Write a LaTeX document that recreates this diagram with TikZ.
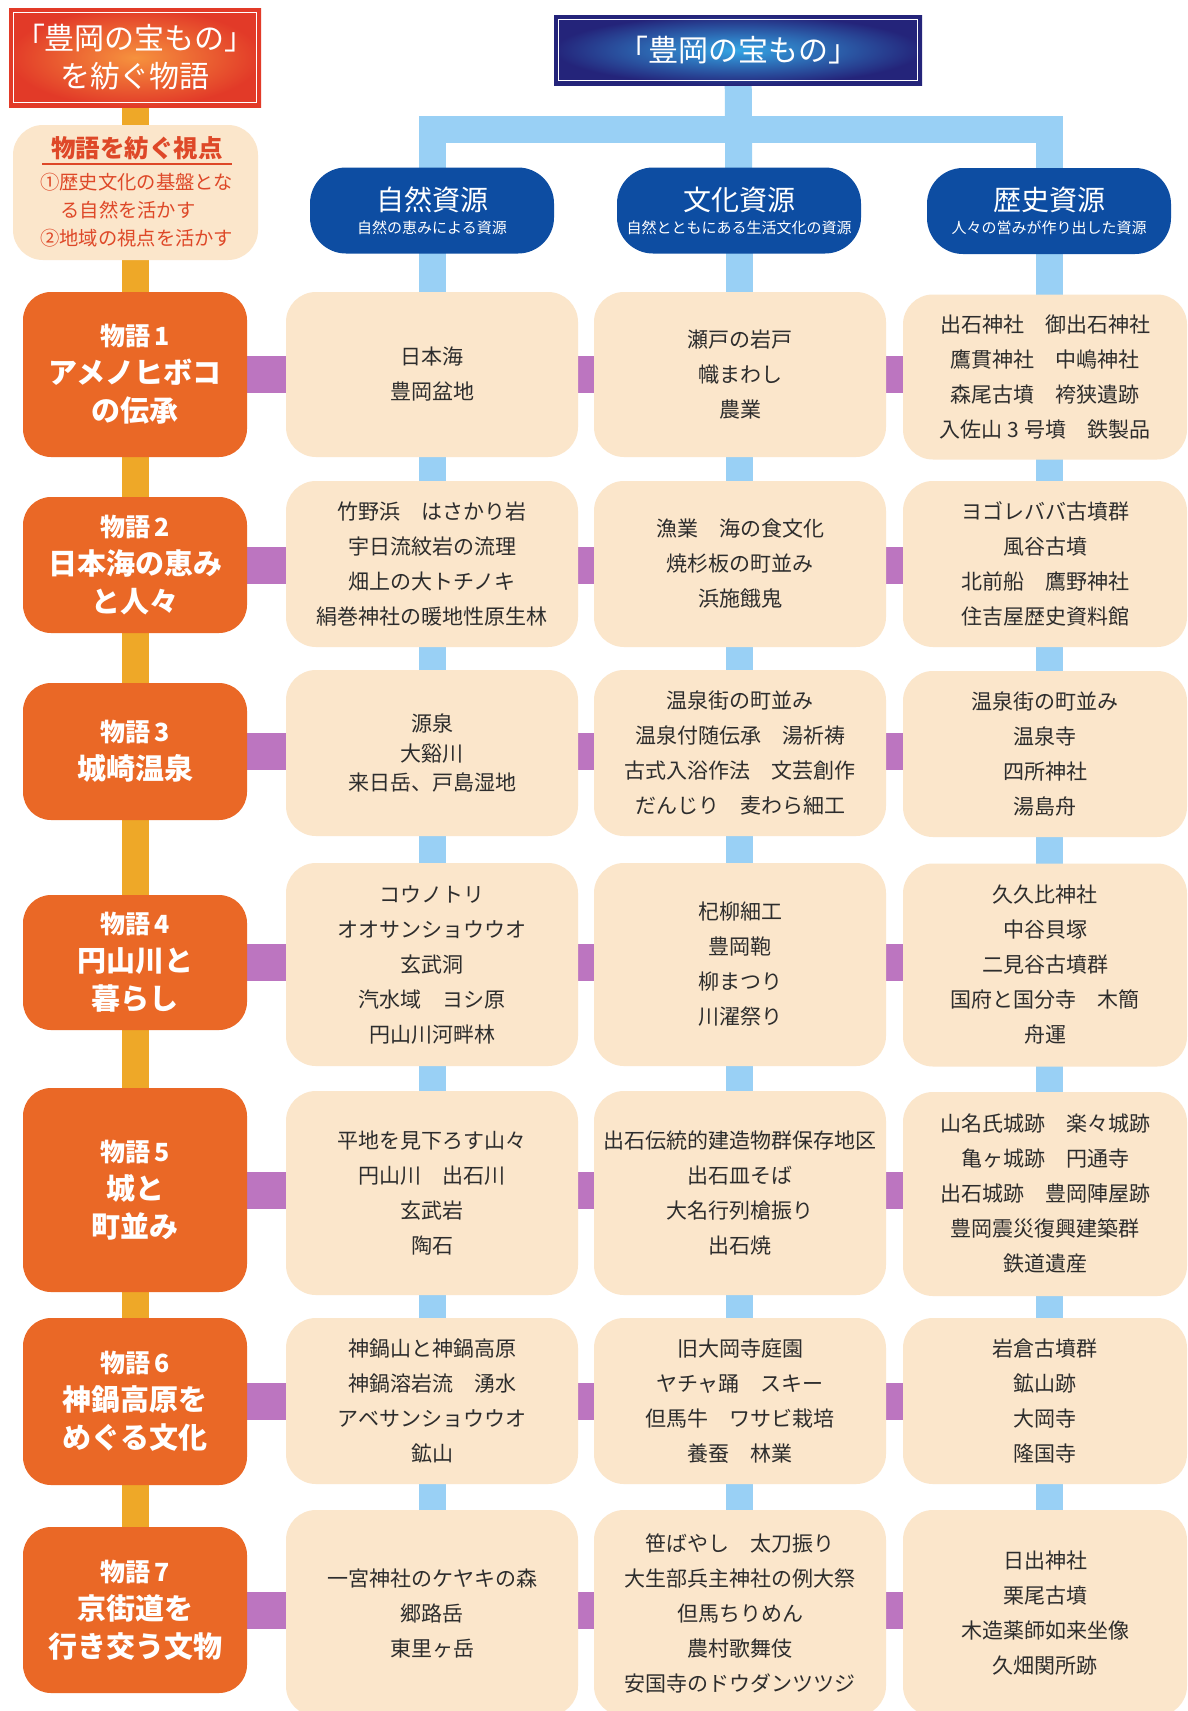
\documentclass[tikz,border=0pt]{standalone}
\usepackage{fontspec}
\setmainfont{Noto Sans CJK JP}
\usetikzlibrary{calc}
\pgfdeclarelayer{bg}
\pgfsetlayers{bg,main}
\definecolor{storyor}{RGB}{234,104,38}
\definecolor{baror}{RGB}{238,168,40}
\definecolor{beige}{RGB}{251,230,203}
\definecolor{purp}{RGB}{188,117,192}
\definecolor{lblue}{RGB}{153,208,245}
\definecolor{catblue}{RGB}{13,77,162}
\definecolor{redin}{RGB}{246,146,62}
\definecolor{redout}{RGB}{226,58,40}
\definecolor{bluein}{RGB}{52,165,228}
\definecolor{blueout}{RGB}{36,36,122}
\definecolor{vpred}{RGB}{222,72,40}
\definecolor{txt}{RGB}{45,45,45}
\tikzset{
  story/.style={fill=storyor, rounded corners=28pt, minimum width=224pt, text=white, align=center,
    font=\bfseries\fontsize{29}{38}\selectfont, inner sep=0pt},
  res/.style={fill=beige, rounded corners=30pt, minimum width=292pt, text=txt, align=center,
    font=\fontsize{21}{35}\selectfont, inner sep=0pt},
  resr/.style={res, minimum width=284pt},
  cat/.style={fill=catblue, rounded corners=36pt, minimum width=244pt, minimum height=86pt, text=white,
    align=center, font=\fontsize{15}{23}\selectfont, inner sep=0pt},
  redtitle/.style={shading=radial, inner color=redin, outer color=redout, minimum width=252pt,
    minimum height=99pt, text=white, align=center, font=\fontsize{30}{38}\selectfont, inner sep=0pt},
  bluetitle/.style={shading=radial, inner color=bluein, outer color=blueout, minimum width=368pt,
    minimum height=70pt, text=white, align=center, font=\fontsize{30}{34}\selectfont, inner sep=0pt},
  frame/.style={draw=white, line width=1.2pt},
  orbar/.style={draw=baror, line width=27pt},
  bluebar/.style={draw=lblue, line width=27pt, line join=miter},
  purbar/.style={draw=purp, line width=37pt},
  vpbox/.style={fill=beige, rounded corners=30pt, minimum width=245pt, minimum height=135pt, inner sep=0pt},
}
\newcommand{\cattitle}[1]{{\fontsize{28}{30}\selectfont #1}}
\newcommand{\stnum}[1]{{\fontsize{25}{30}\selectfont 物語\,#1}}
\begin{document}
\begin{tikzpicture}[x=1pt,y=-1pt]
\useasboundingbox (0,0) rectangle (1187,1711);
\begin{pgfonlayer}{bg}
\fill[white] (0,0) rectangle (1187,1711);
\end{pgfonlayer}

% titles
\node[redtitle] (rt) at (135,57.5) {「豊岡の宝もの」\\を紡ぐ物語};
\draw[frame] ($(rt.north west)+(5,5)$) rectangle ($(rt.south east)+(-5,-5)$);
\node[bluetitle] (bt) at (738,50) {「豊岡の宝もの」};
\draw[frame] ($(bt.north west)+(5,5)$) rectangle ($(bt.south east)+(-5,-5)$);

% categories
\node[cat] (nat) at (432,210.5) {\cattitle{自然資源}\\自然の恵みによる資源};
\node[cat] (cul) at (739,210.5) {\cattitle{文化資源}\\自然とともにある生活文化の資源};
\node[cat] (his) at (1049,211) {\cattitle{歴史資源}\\人々の営みが作り出した資源};

% viewpoint box
\node[vpbox] (vp) at (135.5,192.5) {};
\node[text=vpred, font=\bfseries\fontsize{24.5}{28}\selectfont, inner sep=0pt] (vph) at (137,148) {物語を紡ぐ視点};
\coordinate (ul1) at (42,164);
\coordinate (ul2) at (232,164);
\draw[vpred, line width=1.2pt] (ul1) -- (ul2);
\node[text=vpred, font=\fontsize{19.3}{28}\selectfont, align=left, anchor=north west, inner sep=0pt] (vpt) at (40,173)
  {①歴史文化の基盤とな\\\hspace*{1.05em}る自然を活かす\\②地域の視点を活かす};

% stories
\node[story, minimum height=165pt] (s1) at (135,374.5) {\stnum{1}\\アメノヒボコ\\の伝承};
\node[story, minimum height=136pt] (s2) at (135,565) {\stnum{2}\\日本海の恵み\\と人々};
\node[story, minimum height=137pt] (s3) at (135,751.5) {\stnum{3}\\城崎温泉};
\node[story, minimum height=135pt] (s4) at (135,962.5) {\stnum{4}\\円山川と\\暮らし};
\node[story, minimum height=204pt] (s5) at (135,1190) {\stnum{5}\\城と\\町並み};
\node[story, minimum height=167pt] (s6) at (135,1401.5) {\stnum{6}\\神鍋高原を\\めぐる文化};
\node[story, minimum height=166pt] (s7) at (135,1610) {\stnum{7}\\京街道を\\行き交う文物};

% row 1
\node[res, minimum height=165pt] (r1a) at (432,374.5) {日本海\\豊岡盆地};
\node[res, minimum height=165pt] (r1b) at (740,374.5) {瀬戸の岩戸\\幟まわし\\農業};
\node[resr, minimum height=165pt] (r1c) at (1045,377) {出石神社　御出石神社\\鷹貫神社　中嶋神社\\森尾古墳　袴狭遺跡\\入佐山 3 号墳　鉄製品};
% row 2
\node[res, minimum height=166pt] (r2a) at (432,564) {竹野浜　はさかり岩\\宇日流紋岩の流理\\畑上の大トチノキ\\絹巻神社の暖地性原生林};
\node[res, minimum height=166pt] (r2b) at (740,564) {漁業　海の食文化\\焼杉板の町並み\\浜施餓鬼};
\node[resr, minimum height=166pt] (r2c) at (1045,564) {ヨゴレババ古墳群\\風谷古墳\\北前船　鷹野神社\\住吉屋歴史資料館};
% row 3
\node[res, minimum height=166pt, font=\fontsize{21}{29.5}\selectfont] (r3a) at (432,753) {源泉\\大谿川\\来日岳、戸島湿地};
\node[res, minimum height=166pt] (r3b) at (740,753) {温泉街の町並み\\温泉付随伝承　湯祈祷\\古式入浴作法　文芸創作\\だんじり　麦わら細工};
\node[resr, minimum height=166pt] (r3c) at (1045,754) {温泉街の町並み\\温泉寺\\四所神社\\湯島舟};
% row 4
\node[res, minimum height=203pt] (r4a) at (432,964.5) {コウノトリ\\オオサンショウウオ\\玄武洞\\汽水域　ヨシ原\\円山川河畔林};
\node[res, minimum height=203pt] (r4b) at (740,964.5) {杞柳細工\\豊岡鞄\\柳まつり\\川濯祭り};
\node[resr, minimum height=203pt] (r4c) at (1045,965) {久久比神社\\中谷貝塚\\二見谷古墳群\\国府と国分寺　木簡\\舟運};
% row 5
\node[res, minimum height=204pt] (r5a) at (432,1193) {平地を見下ろす山々\\円山川　出石川\\玄武岩\\陶石};
\node[res, minimum height=204pt] (r5b) at (740,1193) {出石伝統的建造物群保存地区\\出石皿そば\\大名行列槍振り\\出石焼};
\node[resr, minimum height=204pt] (r5c) at (1045,1194) {山名氏城跡　楽々城跡\\亀ヶ城跡　円通寺\\出石城跡　豊岡陣屋跡\\豊岡震災復興建築群\\鉄道遺産};
% row 6
\node[res, minimum height=166pt] (r6a) at (432,1401) {神鍋山と神鍋高原\\神鍋溶岩流　湧水\\アベサンショウウオ\\鉱山};
\node[res, minimum height=166pt] (r6b) at (740,1401) {旧大岡寺庭園\\ヤチャ踊　スキー\\但馬牛　ワサビ栽培\\養蚕　林業};
\node[resr, minimum height=166pt] (r6c) at (1045,1401) {岩倉古墳群\\鉱山跡\\大岡寺\\隆国寺};
% row 7
\node[res, minimum height=206pt] (r7a) at (432,1613) {一宮神社のケヤキの森\\郷路岳\\東里ヶ岳};
\node[res, minimum height=206pt] (r7b) at (740,1613) {笹ばやし　太刀振り\\大生部兵主神社の例大祭\\但馬ちりめん\\農村歌舞伎\\安国寺のドウダンツツジ};
\node[resr, minimum height=206pt] (r7c) at (1045,1613) {日出神社\\栗尾古墳\\木造薬師如来坐像\\久畑関所跡};

\coordinate (hb) at (739,129.5);

\begin{pgfonlayer}{bg}
% orange spine
\draw[orbar] (rt.center) -- (s7.center);
% blue tree
\draw[bluebar] (bt.center) -- (cul.center);
\draw[bluebar] (nat.center) |- (hb) -| (his.center);
\draw[bluebar] (nat.center) -- (nat.center |- r7a.center);
\draw[bluebar] (cul.center) -- (cul.center |- r7b.center);
\draw[bluebar] (his.center) -- (his.center |- r7c.center);
% purple links
\foreach \i in {1,...,7}{
  \draw[purbar] (s\i.east) -- (s\i.east -| r\i a.west);
  \draw[purbar] (r\i a.east |- s\i.east) -- (s\i.east -| r\i b.west);
  \draw[purbar] (r\i b.east |- s\i.east) -- (s\i.east -| r\i c.west);
}
\end{pgfonlayer}
\end{tikzpicture}
\end{document}
